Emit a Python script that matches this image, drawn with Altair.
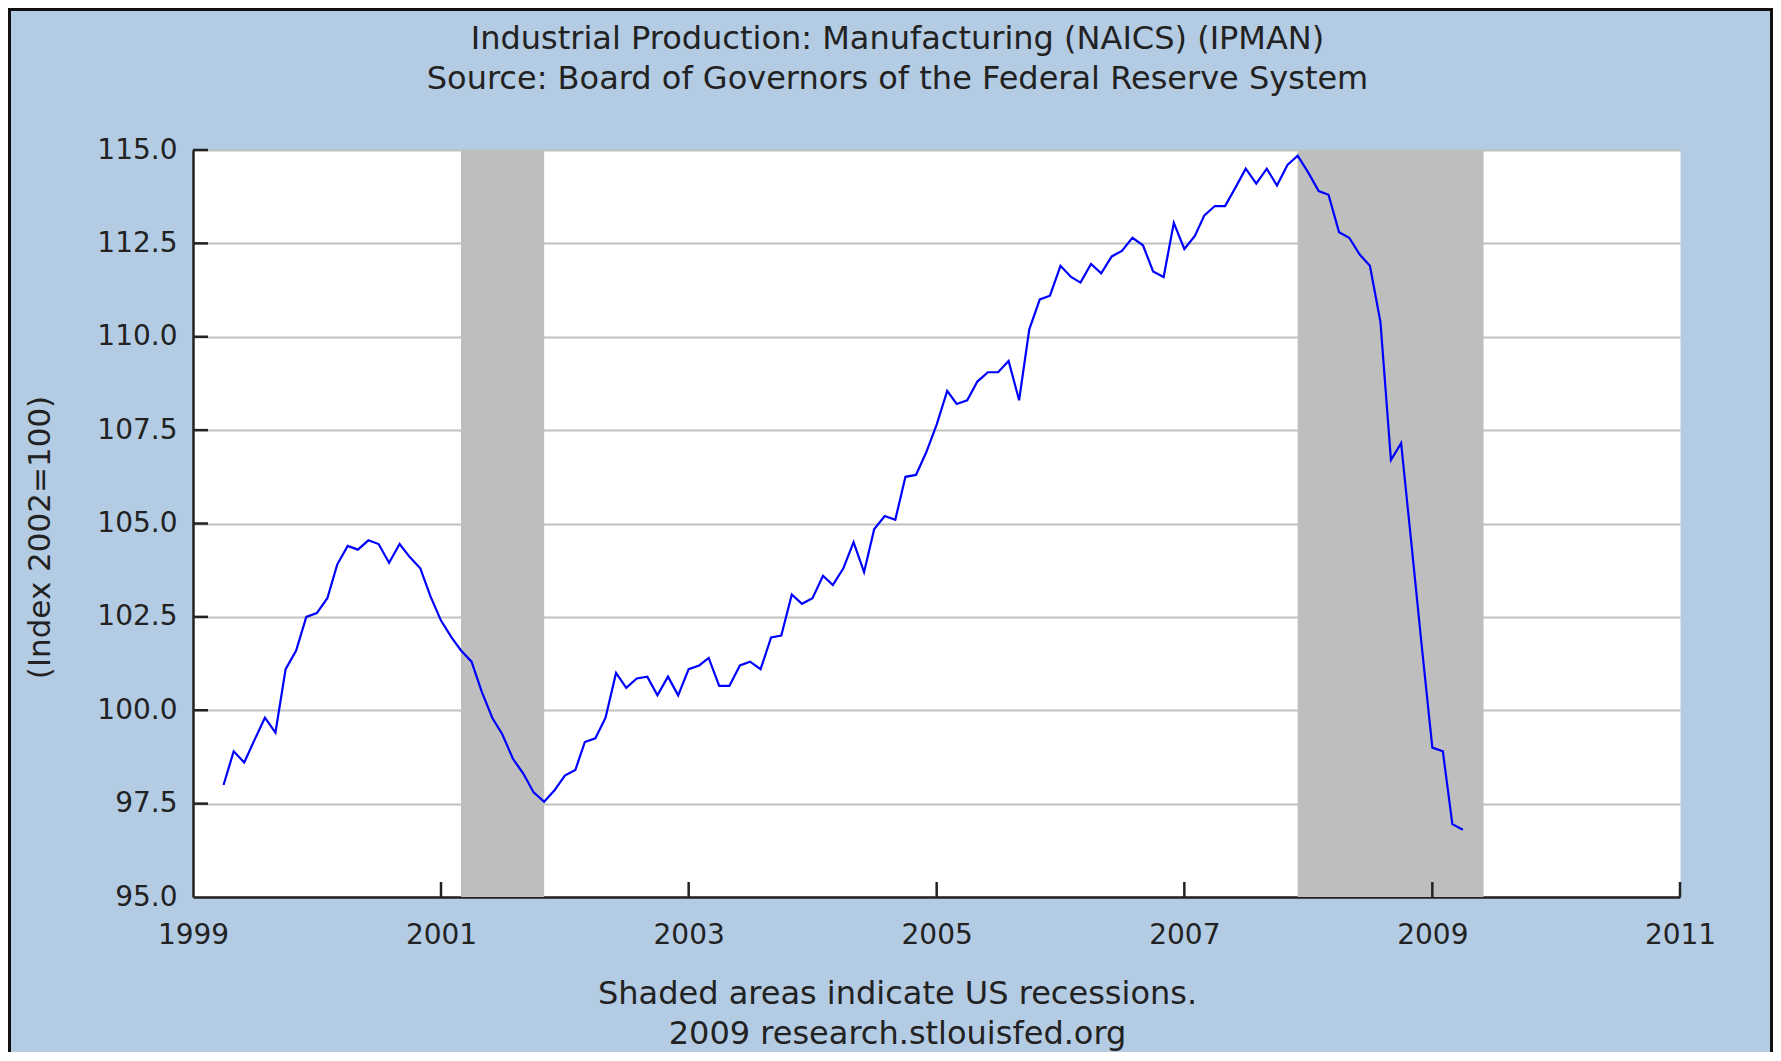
import altair as alt
import pandas as pd

# ---------------- data ----------------
title_lines = [
    "Industrial Production: Manufacturing (NAICS) (IPMAN)",
    "Source: Board of Governors of the Federal Reserve System",
]
y_title = "(Index 2002=100)"
footer_lines = ["Shaded areas indicate US recessions.", "2009 research.stlouisfed.org"]

first_month = "1999-04-01"
ipman = [
    98.0, 98.9, 98.6, 99.2, 99.8, 99.4, 101.1, 101.6, 102.5,
    102.6, 103.0, 103.9, 104.4, 104.3, 104.55, 104.45, 103.95, 104.45, 104.1, 103.8, 103.05,
    102.4, 101.95, 101.6, 101.3, 100.5, 99.8, 99.35, 98.7, 98.3, 97.8, 97.55, 97.85,
    98.25, 98.4, 99.15, 99.25, 99.8, 101.0, 100.6, 100.85, 100.9, 100.4, 100.9, 100.4,
    101.1, 101.2, 101.4, 100.65, 100.65, 101.2, 101.3, 101.1, 101.95, 102.0, 103.1, 102.85,
    103.0, 103.6, 103.35, 103.8, 104.5, 103.7, 104.85, 105.2, 105.1, 106.25, 106.3, 106.9,
    107.65, 108.55, 108.2, 108.3, 108.8, 109.05, 109.05, 109.35, 108.3, 110.2, 111.0, 111.1,
    111.9, 111.6, 111.45, 111.95, 111.7, 112.15, 112.3, 112.65, 112.45, 111.75, 111.6, 113.05,
    112.35, 112.7, 113.25, 113.5, 113.5, 114.0, 114.5, 114.1, 114.5, 114.05, 114.6, 114.85,
    114.4, 113.9, 113.8, 112.8, 112.65, 112.2, 111.9, 110.4, 106.7, 107.15, 104.4, 101.7,
    99.0, 98.9, 96.95, 96.8,
]

recession_start = ["2001-03-01", "2007-12-01"]
recession_end = ["2001-11-01", "2009-06-01"]

y_tick_values = [95.0, 97.5, 100.0, 102.5, 105.0, 107.5, 110.0, 112.5, 115.0]
x_tick_years = [1999, 2001, 2003, 2005, 2007, 2009, 2011]
x_domain_years = [1999, 2011]

# ---------------- tables ----------------
dates = pd.date_range(first_month, periods=len(ipman), freq="MS").strftime("%Y-%m-%d").tolist()
df_line = pd.DataFrame({"date": dates, "value": ipman})
df_rec = pd.DataFrame({"start": recession_start, "end": recession_end})
df_yt = pd.DataFrame({"v": y_tick_values[1:]})
df_xt = pd.DataFrame({"d": [f"{y}-01-01" for y in x_tick_years[1:]]})
df_frame = pd.DataFrame({"k": [0]})

W, H = 1487, 747
PAD = {"left": 185, "top": 142, "right": 93, "bottom": 155}
FONT = "DejaVu Sans"
DARK = "#222222"

def dt(y):
    return alt.DateTime(year=y, month=1, date=1, utc=True)

x_scale = alt.Scale(type="utc", domain=[dt(x_domain_years[0]), dt(x_domain_years[1])])
y_scale = alt.Scale(domain=[y_tick_values[0], y_tick_values[-1]], nice=False, zero=False)

x_axis = alt.Axis(
    values=[dt(y) for y in x_tick_years], format="%Y", formatType="utc",
    labelFontSize=28, labelPadding=24, labelColor=DARK, labelFont=FONT,
    ticks=False, grid=False, domainColor=DARK, domainWidth=2.5,
    title=footer_lines, titleFontSize=32, titleFont=FONT, titleFontWeight="normal",
    titleColor=DARK, titleLineHeight=40, titleX=704, titleY=96,
    titleAlign="center", titleBaseline="middle", labelFlush=False,
)
y_axis = alt.Axis(
    values=y_tick_values, format=".1f",
    labelFontSize=28, labelPadding=16, labelColor=DARK, labelFont=FONT,
    ticks=False, grid=True, gridColor="#c0c0c0", gridWidth=2,
    domainColor=DARK, domainWidth=2.5,
    title=y_title, titleFontSize=31, titleFont=FONT, titleFontWeight="normal",
    titleColor=DARK, titleX=-153, titleY=387, titleAngle=270,
    titleAlign="center", titleBaseline="middle", labelFlush=False,
)

rec = alt.Chart(df_rec).mark_rect(color="#bebebe").encode(
    x=alt.X("start:T", scale=x_scale, axis=x_axis),
    x2="end:T",
)

line = alt.Chart(df_line).mark_line(color="#0000ff", strokeWidth=2.2).encode(
    x=alt.X("date:T", scale=x_scale, axis=x_axis),
    y=alt.Y("value:Q", scale=y_scale, axis=y_axis),
)

yticks = alt.Chart(df_yt).mark_rule(color=DARK, strokeWidth=2.5).encode(
    y=alt.Y("v:Q", scale=y_scale, axis=y_axis),
    x=alt.value(0), x2=alt.value(15),
)
xticks = alt.Chart(df_xt).mark_rule(color=DARK, strokeWidth=2.5).encode(
    x=alt.X("d:T", scale=x_scale, axis=x_axis),
    y=alt.value(H), y2=alt.value(H - 15),
)

# outer dark frame of the graphic (bottom edge falls outside the canvas)
frame = alt.Chart(df_frame).mark_rect(
    fill="transparent", stroke="#111111", strokeWidth=3
).encode(
    x=alt.value(-PAD["left"] + 1.5), x2=alt.value(W + PAD["right"] - 1.5),
    y=alt.value(-PAD["top"] + 1.5), y2=alt.value(H + PAD["bottom"] + 20),
)

chart = alt.layer(rec, line, yticks, xticks, frame).properties(
    width=W, height=H,
    autosize=alt.AutoSizeParams(type="none"),
    padding=PAD,
    background="#b3cce4",
    title=alt.TitleParams(
        text=title_lines, anchor="middle", frame="group", fontSize=32, font=FONT,
        fontWeight="normal", color=DARK, lineHeight=40, dx=-39, offset=-88,
    ),
).configure_view(fill="white", stroke="transparent")

chart.save("out.html", embed_options={"renderer": "svg", "actions": False})
